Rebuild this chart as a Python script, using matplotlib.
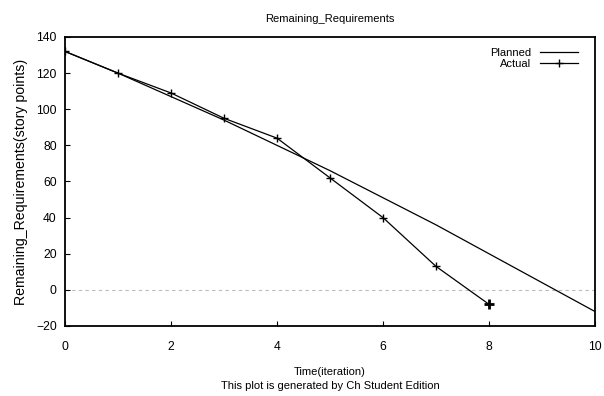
import matplotlib
matplotlib.use('Agg')
import matplotlib.pyplot as plt

# iteration number and remaining story points
iterations = [0, 1, 2, 3, 4, 5, 6, 7, 8, 9, 10]
planned = [132, 120, 107, 94, 80, 66, 51, 36, 20, 4, -12]
actual_x = [0, 1, 2, 3, 4, 5, 6, 7, 8]
actual_y = [132, 120, 109, 95, 84, 62, 40, 13, -8]
x_ticks = [0, 2, 4, 6, 8, 10]
y_ticks = [-20, 0, 20, 40, 60, 80, 100, 120, 140]


def main():
    plt.rcParams['font.family'] = ['Liberation Sans', 'DejaVu Sans']
    fig = plt.figure(figsize=(6.04, 3.96), dpi=100)
    ax = fig.add_axes([0.1076, 0.1768, 0.8775, 0.7298])

    ax.axhline(0, color='#bbbbbb', linewidth=0.8, linestyle=(0, (3, 3)), zorder=1)
    ax.plot(iterations, planned, color='black', linewidth=0.9, label='Planned', zorder=2)
    ax.plot(actual_x, actual_y, color='black', linewidth=0.9, marker='+',
            markersize=6, markeredgewidth=1.0, label='Actual', zorder=3)
    # last point is drawn heavier
    ax.plot(actual_x[-1:], actual_y[-1:], linestyle='none', marker='+', color='black',
            markersize=7, markeredgewidth=2.0, zorder=4)

    ax.set_xlim(0, 10)
    ax.set_ylim(-20, 140)
    ax.set_xticks(x_ticks)
    ax.set_yticks(y_ticks)
    ax.tick_params(direction='in', length=3.5, width=0.8, labelsize=8.7)
    ax.tick_params(axis='x', pad=11)
    ax.tick_params(axis='y', pad=6)
    for s in ax.spines.values():
        s.set_linewidth(1.3)

    ax.set_title('Remaining_Requirements', fontsize=8, pad=11)
    ax.set_ylabel('Remaining_Requirements(story points)', fontsize=10.2, labelpad=6)
    ax.set_xlabel('Time(iteration)\nThis plot is generated by Ch Student Edition',
                  fontsize=8, labelpad=10, linespacing=1.45)

    leg = ax.legend(loc='upper right', bbox_to_anchor=(0.989, 1.0), frameon=False,
                    fontsize=8, markerfirst=False, handlelength=3.4, borderaxespad=0.5,
                    handletextpad=0.8, labelspacing=0.05, borderpad=0.5)
    for t in leg.get_texts():
        t.set_ha('right')

    fig.savefig('out.png', dpi=100)


if __name__ == "__main__":
    main()
